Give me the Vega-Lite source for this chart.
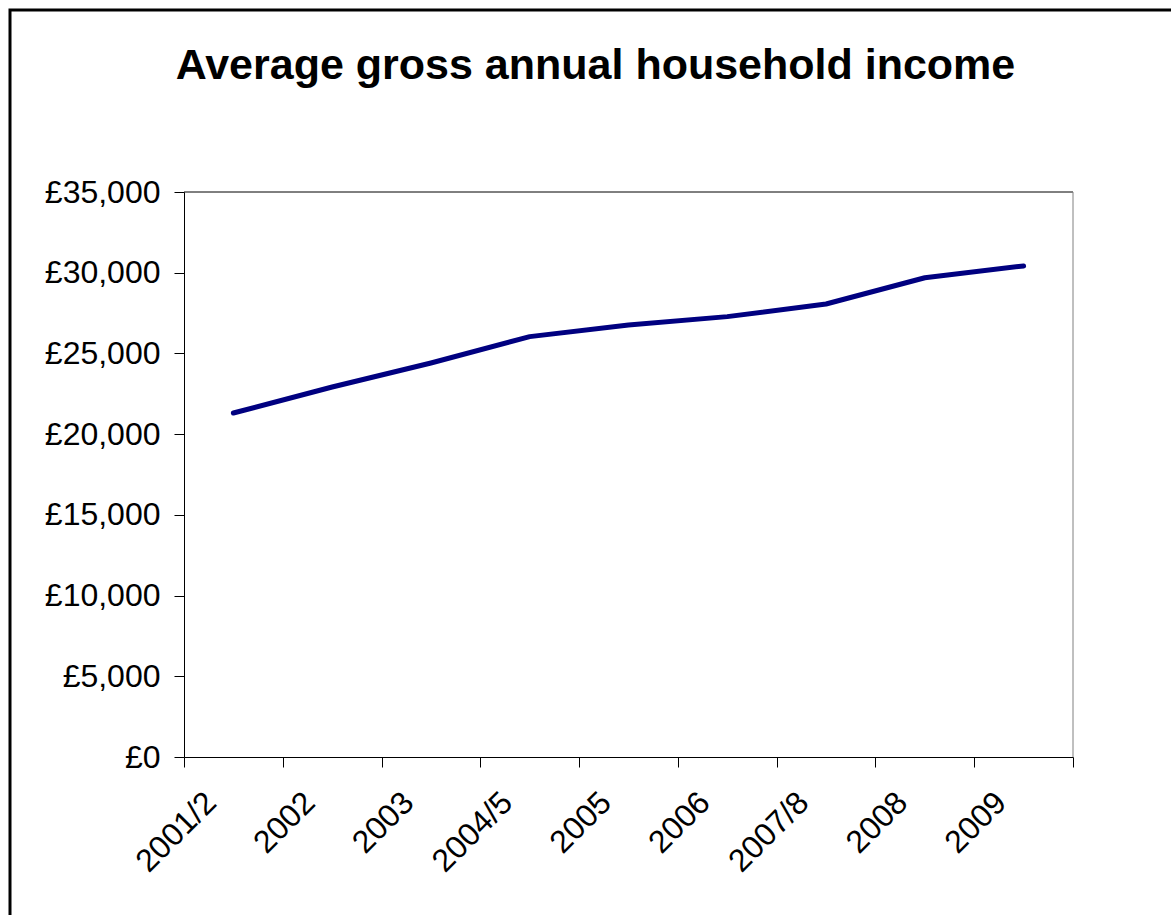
{
  "$schema": "https://vega.github.io/schema/vega-lite/v6.json",
  "usermeta": {"embedOptions": {"actions": false}},
  "width": 1171,
  "height": 915,
  "autosize": {"type": "none"},
  "padding": {"left": 10, "top": 10, "right": -10, "bottom": -10},
  "background": "white",
  "title": {
    "text": "Average gross annual household income",
    "frame": "group",
    "anchor": "middle",
    "orient": "top",
    "offset": -112,
    "baseline": "alphabetic",
    "font": "Liberation Sans",
    "fontSize": 43,
    "fontWeight": "bold",
    "color": "black"
  },
  "config": {"view": {"stroke": "black", "strokeWidth": 3}},
  "data": {
    "values": [
      {"period": "2001/2", "income": 21310},
      {"period": "2002", "income": 22920},
      {"period": "2003", "income": 24410},
      {"period": "2004/5", "income": 26040},
      {"period": "2005", "income": 26760},
      {"period": "2006", "income": 27280},
      {"period": "2007/8", "income": 28060},
      {"period": "2008", "income": 29690},
      {"period": "2009", "income": 30420}
    ]
  },
  "layer": [
    {
      "mark": {"type": "line", "color": "#000080", "strokeWidth": 5, "strokeCap": "round", "strokeJoin": "round"},
      "encoding": {
        "x": {
          "field": "period",
          "type": "ordinal",
          "sort": null,
          "bandPosition": 0.5,
          "scale": {
            "type": "band",
            "domain": ["2001/2", "2002", "2003", "2004/5", "2005", "2006", "2007/8", "2008", "2009"],
            "range": [174, 1063],
            "paddingInner": 0,
            "paddingOuter": 0
          },
          "axis": {
            "title": null,
            "orient": "bottom",
            "offset": -168,
            "tickBand": "extent",
            "labelAngle": -45,
            "labelAlign": "right",
            "labelBaseline": "middle",
            "labelFont": "Liberation Sans",
            "labelFontSize": 32,
            "labelColor": "black",
            "labelPadding": 30,
            "labelOffset": -23,
            "labelOverlap": false,
            "tickSize": 10,
            "tickColor": "black",
            "domainColor": "black",
            "grid": false
          }
        },
        "y": {
          "field": "income",
          "type": "quantitative",
          "scale": {"domain": [0, 35000], "range": [747, 182], "nice": false, "zero": true},
          "axis": {
            "title": null,
            "offset": -174,
            "values": [0, 5000, 10000, 15000, 20000, 25000, 30000, 35000],
            "labelExpr": "'£' + format(datum.value, ',')",
            "labelFont": "Liberation Sans",
            "labelFontSize": 32,
            "labelColor": "black",
            "labelPadding": 14,
            "tickSize": 10,
            "tickColor": "black",
            "domainColor": "black",
            "grid": false
          }
        }
      }
    },
    {
      "data": {"values": [{}]},
      "mark": {"type": "rule", "color": "black", "strokeWidth": 1},
      "encoding": {
        "x": {"datum": "2001/2", "type": "ordinal", "bandPosition": 0},
        "x2": {"datum": "2009", "bandPosition": 1},
        "y": {"datum": 35000, "type": "quantitative"}
      }
    },
    {
      "data": {"values": [{}]},
      "mark": {"type": "rule", "color": "#808080", "strokeWidth": 1},
      "encoding": {
        "x": {"datum": "2009", "type": "ordinal", "bandPosition": 1},
        "y": {"datum": 0, "type": "quantitative"},
        "y2": {"datum": 35000}
      }
    }
  ]
}
